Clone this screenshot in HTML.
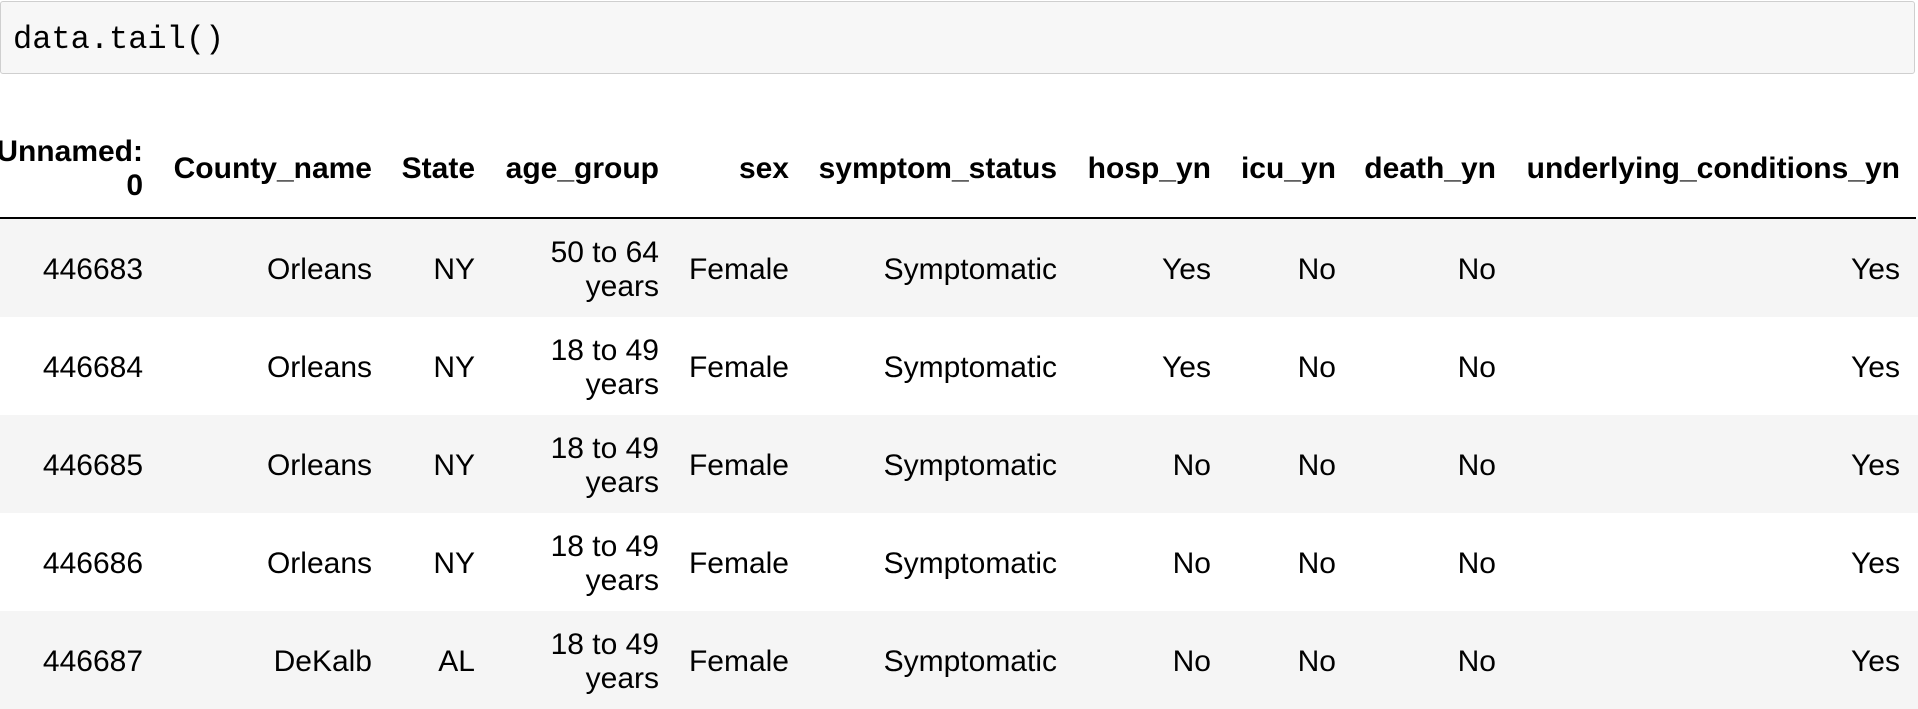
<!DOCTYPE html>
<html><head><meta charset="utf-8"><style>
body{margin:0;width:1918px;height:709px;background:#fff;position:relative;overflow:hidden;font-family:"Liberation Sans",Arial,sans-serif;color:#000}
.code{position:absolute;left:0;top:1px;width:1913px;height:71px;background:#f7f7f7;border:1px solid #cfcfcf;border-radius:3px}
.code span{position:absolute;left:12px;top:19px;font-family:"Liberation Mono",monospace;font-size:32px;color:#000}
.t{position:absolute;white-space:nowrap;text-align:right;font-size:30px;line-height:34px}
.h{font-weight:bold}
.row{position:absolute;left:0;width:1918px;height:98px}
.hr{position:absolute;left:0;top:217px;width:1916px;height:2px;background:#000}
</style></head><body>
<div class="code"><span>data.tail()</span></div>
<div id="tbl"></div>
<div class="hr"></div>
<script>
const columns=["Unnamed:\n0","County_name","State","age_group","sex","symptom_status","hosp_yn","icu_yn","death_yn","underlying_conditions_yn"];
const rights=[143,372,475,659,789,1057,1211,1336,1496,1900];
const rows=[
["446683","Orleans","NY","50 to 64\nyears","Female","Symptomatic","Yes","No","No","Yes"],
["446684","Orleans","NY","18 to 49\nyears","Female","Symptomatic","Yes","No","No","Yes"],
["446685","Orleans","NY","18 to 49\nyears","Female","Symptomatic","No","No","No","Yes"],
["446686","Orleans","NY","18 to 49\nyears","Female","Symptomatic","No","No","No","Yes"],
["446687","DeKalb","AL","18 to 49\nyears","Female","Symptomatic","No","No","No","Yes"]];
const tbl=document.getElementById('tbl');
function place(txt,right,cy,cls,name){
  const lines=txt.split("\n");
  const d=document.createElement('div');
  
  
  d.className='t '+cls;
  d.innerHTML=lines.join('<br>');
  d.style.right=(1918-right)+'px';
  d.style.top=(cy-lines.length*17)+'px';
  tbl.appendChild(d);
}
columns.forEach((c,i)=>place(c,rights[i],169,'h','column-header'));
rows.forEach((r,ri)=>{
  const top=219+ri*98;
  const bg=document.createElement('div');
  
  
  bg.className='row';bg.style.top=top+'px';
  bg.style.background=ri%2===0?'#f5f5f5':'#fff';
  tbl.appendChild(bg);
  r.forEach((v,ci)=>place(v,rights[ci],top+51,'','table-cell'));
});
</script>
</body></html>
